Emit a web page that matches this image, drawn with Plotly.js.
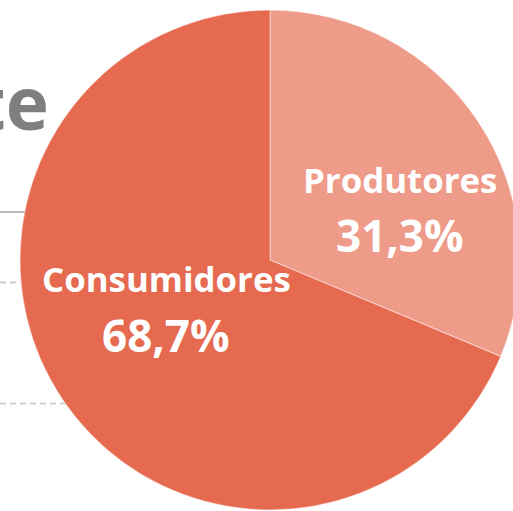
<!DOCTYPE html>
<html>
<head>
<meta charset="utf-8">
<script src="https://cdn.plot.ly/plotly-3.0.1.min.js"></script>
<style>
  html, body { margin: 0; padding: 0; overflow: hidden; background: #fff; }
  #chart { width: 540px; height: 520px; }
</style>
</head>
<body>
<div id="chart"></div>
<script>
// Data
const categories = ["Produtores", "Consumidores"];
const values = [31.3, 68.7];
const colors = ["#EE9B8A", "#E56A50"];

const W = 540, H = 520;
const px = x => x / W;
const py = y => 1 - y / H;
const fmt = v => v.toFixed(1).replace(".", ",") + "%";

// label placement (pixel centres)
const labelPos = [
  { x: 399.5, yl: 179, yp: 235 },
  { x: 166, yl: 278, yp: 334.5 }
];

const annotations = [];
categories.forEach((c, i) => {
  annotations.push({
    xref: "paper", yref: "paper", x: px(labelPos[i].x), y: py(labelPos[i].yl),
    xanchor: "center", yanchor: "middle", showarrow: false,
    text: "<b>" + c + "</b>",
    font: { family: "Open Sans, sans-serif", size: 34.8, color: "#ffffff" }
  });
  annotations.push({
    xref: "paper", yref: "paper", x: px(labelPos[i].x), y: py(labelPos[i].yp),
    xanchor: "center", yanchor: "middle", showarrow: false,
    text: "<b>" + fmt(values[i]) + "</b>",
    font: { family: "Open Sans, sans-serif", size: 44, color: "#ffffff" }
  });
});
// cut-off slide title fragment in background
annotations.push({
  xref: "paper", yref: "paper", x: px(51), y: py(102),
  xanchor: "right", yanchor: "middle", showarrow: false,
  text: "<b>te</b>",
  font: { family: "Open Sans, sans-serif", size: 73, color: "#7f7f7f" }
});

const shapes = [
  { type: "line", xref: "paper", yref: "paper", x0: 0, x1: px(120), y0: py(212), y1: py(212),
    line: { color: "#a6a6a6", width: 1.5 }, layer: "below" },
  { type: "line", xref: "paper", yref: "paper", x0: 0, x1: px(120), y0: py(282.5), y1: py(282.5),
    line: { color: "#d0d0d0", width: 2, dash: "6px,4px" }, layer: "below" },
  { type: "line", xref: "paper", yref: "paper", x0: 0, x1: px(120), y0: py(403.5), y1: py(403.5),
    line: { color: "#d0d0d0", width: 2, dash: "6px,4px" }, layer: "below" }
];

const trace = {
  type: "pie",
  labels: categories,
  values: values,
  sort: false,
  direction: "clockwise",
  rotation: 0,
  marker: { colors: colors, line: { color: "rgba(255,255,255,0.5)", width: 1 } },
  textinfo: "none",
  hoverinfo: "none",
  showlegend: false,
  domain: { x: [20 / W, 520 / W], y: [10 / H, 510 / H] }
};

const layout = {
  width: W, height: H,
  margin: { l: 0, r: 0, t: 0, b: 0 },
  paper_bgcolor: "#ffffff",
  plot_bgcolor: "#ffffff",
  showlegend: false,
  annotations: annotations,
  shapes: shapes
};

Plotly.newPlot("chart", [trace], layout, { displayModeBar: false, staticPlot: true });
</script>
</body>
</html>
